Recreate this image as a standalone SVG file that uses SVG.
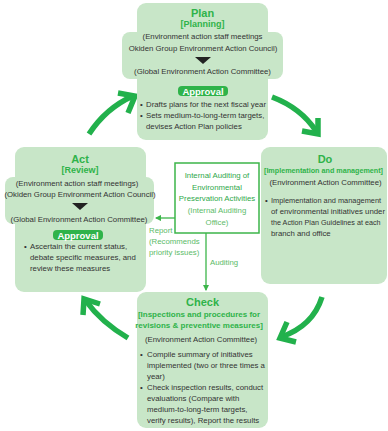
<svg xmlns="http://www.w3.org/2000/svg" width="388" height="431" viewBox="0 0 388 431">
  <style>
    .box { fill: #c8e6c8; }
    .title { font-family: "Liberation Sans", Arial, sans-serif; font-weight: bold; font-size: 11px; fill: #2fb34a; text-anchor: middle; }
    .sub { font-family: "Liberation Sans", Arial, sans-serif; font-weight: bold; font-size: 8px; fill: #2fb34a; text-anchor: middle; }
    .txt { font-family: "Liberation Sans", Arial, sans-serif; font-size: 7.8px; fill: #333333; }
    .mid { text-anchor: middle; }
    .pill { fill: #2fb34a; }
    .pilltxt { font-family: "Liberation Sans", Arial, sans-serif; font-weight: bold; font-size: 9.5px; fill: #ffffff; text-anchor: middle; }
    .cycle { fill: none; stroke: #22b14c; stroke-width: 5.5; }
    .head { fill: none; stroke: #22b14c; stroke-width: 5.5; stroke-linejoin: miter; stroke-linecap: butt; }
    .thin { fill: none; stroke: #3cb54a; stroke-width: 1.3; }
    .audit { font-family: "Liberation Sans", Arial, sans-serif; font-size: 7.8px; text-anchor: middle; }
    .note { font-family: "Liberation Sans", Arial, sans-serif; font-size: 7.8px; fill: #5cbb68; }
  </style>
  <defs>
    <marker id="tip" viewBox="0 0 6 6" refX="5" refY="3" markerWidth="5" markerHeight="5" orient="auto">
      <path d="M0,0 L6,3 L0,6 Z" fill="#3cb54a"/>
    </marker>
  </defs>

  <!-- PDCA cycle arrows and audit connectors -->
  <g id="connectors">
    <path class="cycle" d="M89,134 Q106,108 133,96"/>
    <polyline class="head" points="118,93 135,96 128,113"/>
    <path class="cycle" d="M272,97 Q301,108 316,131"/>
    <polyline class="head" points="318,118 318,134 302,131"/>
    <path class="cycle" d="M322,297 Q313,326 281,337"/>
    <polyline class="head" points="287,322 280,338 296,342"/>
    <path class="cycle" d="M128,338 Q101,322 86,301"/>
    <polyline class="head" points="100,304 84,299 83,315"/>

    <path class="thin" d="M175,218 L156,218" marker-end="url(#tip)"/>
    <path class="thin" d="M206,233 L206,290" marker-end="url(#tip)"/>
    <text class="note" x="149" y="233">Report</text>
    <text class="note" x="149" y="244">(Recommends</text>
    <text class="note" x="149" y="255">priority issues)</text>
    <text class="note" x="210" y="265">Auditing</text>
  </g>

  <!-- Plan -->
  <g id="plan">
    <rect class="box" x="137" y="3" width="131" height="137" rx="9"/>
    <rect class="box" x="122" y="32" width="161" height="47" rx="8"/>
    <text class="title" x="202.5" y="17">Plan</text>
    <text class="sub" x="202.5" y="26.5" style="font-size:9px">[Planning]</text>
    <text class="txt mid" x="202.5" y="39">(Environment action staff meetings</text>
    <text class="txt mid" x="203" y="51">Okiden Group Environment Action Council)</text>
    <path d="M195,57 L211,57 L203,64 Z" fill="#222222"/>
    <text class="txt mid" x="202.5" y="73.5">(Global Environment Action Committee)</text>
    <rect class="pill" x="178" y="86" width="50" height="10" rx="4"/>
    <text class="pilltxt" x="203" y="94.5">Approval</text>
    <text class="txt" x="140" y="107">•</text>
    <text class="txt" x="146" y="107">Drafts plans for the next fiscal year</text>
    <text class="txt" x="140" y="118">•</text>
    <text class="txt" x="146" y="118">Sets medium-to-long-term targets,</text>
    <text class="txt" x="146" y="129">devises Action Plan policies</text>
  </g>

  <!-- Act -->
  <g id="act">
    <rect class="box" x="15" y="147" width="131" height="145" rx="9"/>
    <rect class="box" x="5" y="177" width="149" height="47" rx="8"/>
    <text class="title" x="80" y="163">Act</text>
    <text class="sub" x="80" y="173" style="font-size:9px">[Review]</text>
    <text class="txt mid" x="77" y="186">(Environment action staff meetings)</text>
    <text class="txt mid" x="80" y="197">(Okiden Group Environment Action Council)</text>
    <path d="M72,203 L88,203 L80,210 Z" fill="#222222"/>
    <text class="txt mid" x="79" y="221.5">(Global Environment Action Committee)</text>
    <rect class="pill" x="53" y="230" width="50" height="10" rx="4"/>
    <text class="pilltxt" x="78" y="238.5">Approval</text>
    <text class="txt" x="24" y="249">•</text>
    <text class="txt" x="30" y="249">Ascertain the current status,</text>
    <text class="txt" x="30" y="260">debate specific measures, and</text>
    <text class="txt" x="30" y="271">review these measures</text>
  </g>

  <!-- Do -->
  <g id="do">
    <rect class="box" x="261" y="147" width="126" height="137" rx="9"/>
    <text class="title" x="325" y="163">Do</text>
    <text class="sub" x="323.5" y="173" style="font-size:7.2px">[Implementation and management]</text>
    <text class="txt mid" x="325.5" y="185">(Environment Action Committee)</text>
    <text class="txt" x="265" y="203">•</text>
    <text class="txt" x="271" y="203" style="font-size:7.4px">Implementation and management</text>
    <text class="txt" x="271" y="214">of environmental initiatives under</text>
    <text class="txt" x="271" y="225" style="font-size:7.2px">the Action Plan Guidelines at each</text>
    <text class="txt" x="271" y="236">branch and office</text>
  </g>

  <!-- Check -->
  <g id="check">
    <rect class="box" x="137" y="292" width="131" height="136" rx="9"/>
    <text class="title" x="202.5" y="306">Check</text>
    <text class="sub" x="199" y="317">[Inspections and procedures for</text>
    <text class="sub" x="199" y="327.5">revisions &amp; preventive measures]</text>
    <text class="txt mid" x="201" y="342">(Environment Action Committee)</text>
    <text class="txt" x="140" y="357">•</text>
    <text class="txt" x="147" y="357">Compile summary of initiatives</text>
    <text class="txt" x="147" y="368">implemented (two or three times a</text>
    <text class="txt" x="147" y="379">year)</text>
    <text class="txt" x="140" y="390">•</text>
    <text class="txt" x="147" y="390">Check inspection results, conduct</text>
    <text class="txt" x="147" y="401">evaluations (Compare with</text>
    <text class="txt" x="147" y="412">medium-to-long-term targets,</text>
    <text class="txt" x="147" y="423">verify results), Report the results</text>
  </g>

  <!-- Internal audit -->
  <g id="internal-audit">
    <rect x="175" y="163" width="84" height="70" fill="#ffffff" stroke="#3cb54a" stroke-width="1.5"/>
    <text class="audit" x="217" y="178" fill="#2ea84a">Internal Auditing of</text>
    <text class="audit" x="217" y="189.5" fill="#2ea84a">Environmental</text>
    <text class="audit" x="217" y="201" fill="#2ea84a">Preservation Activities</text>
    <text class="audit" x="217" y="212.5" fill="#5cbb68">(Internal Auditing</text>
    <text class="audit" x="217" y="224.5" fill="#5cbb68">Office)</text>
  </g>
</svg>
